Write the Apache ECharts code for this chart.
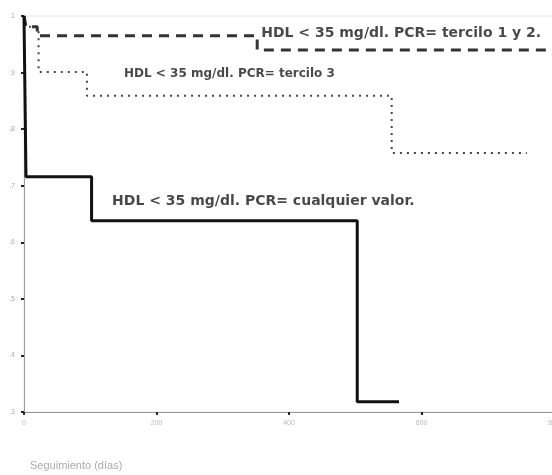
<!DOCTYPE html>
<html><head><meta charset="utf-8">
<script src="https://cdn.jsdelivr.net/npm/echarts@6/dist/echarts.min.js"></script>
<style>html,body{margin:0;padding:0;background:#fff}#c{width:552px;height:475px}</style>
</head><body><div id="c"></div>
<script>
// Kaplan-Meier step data (days, survival)
var solidDays   = [0, 3, 102, 503, 566];
var solidSurv   = [1.0, 0.716, 0.638, 0.318, 0.318];
var dashedDays  = [0, 3, 20, 352, 800];
var dashedSurv  = [1.0, 0.981, 0.965, 0.94, 0.94];
var dottedDays  = [0, 3, 22, 95, 555, 759];
var dottedSurv  = [1.0, 0.981, 0.901, 0.859, 0.758, 0.758];
var xTicks = [0, 200, 400, 600, 800];
var yTicks = [0.3, 0.4, 0.5, 0.6, 0.7, 0.8, 0.9, 1.0];
var labelText = ['HDL < 35 mg/dl. PCR= tercilo 1 y 2.', 'HDL < 35 mg/dl. PCR= tercilo 3', 'HDL < 35 mg/dl. PCR= cualquier valor.'];
var labelDays = [358, 151, 133];
var labelSurv = [0.970, 0.897, 0.672];
var xTitle = 'Seguimiento (días)';

var labelFont = [14, 12, 14];

function pairs(a, b){ return a.map(function(v,i){ return [v, b[i]]; }); }

var chart = echarts.init(document.getElementById('c'));
chart.setOption({
  animation: false,
  backgroundColor: '#fff',
  grid: {left: 24, width: 530, top: 16, height: 396, outerBoundsMode: 'none', containLabel: false,
         show: true, borderColor: '#e4e4e4', borderWidth: 1},
  xAxis: {
    type: 'value', min: 0, max: 800, interval: 200,
    axisLine: {lineStyle: {color: '#999', width: 1}},
    axisTick: {show: true, length: 3, lineStyle: {color: '#222', width: 2}},
    axisLabel: {color: '#bbb', fontSize: 7, margin: 8, fontFamily: 'Liberation Sans'},
    splitLine: {show: false},
    name: xTitle, nameLocation: 'start', nameGap: 0,
    nameTextStyle: {color: '#aaa', fontSize: 11, fontFamily: 'Liberation Sans', align: 'left', verticalAlign: 'top', padding: [48, 0, 0, 6]}
  },
  yAxis: {
    type: 'value', min: 0.3, max: 1.0, interval: 0.1,
    axisLine: {show: true, lineStyle: {color: '#999', width: 1}},
    axisTick: {show: true, length: 3, lineStyle: {color: '#222', width: 2}},
    axisLabel: {color: '#aaa', fontSize: 7, margin: 9, fontFamily: 'Liberation Sans',
      formatter: function(v){ var r = Math.round(v*10)/10; return r === 1 ? '1' : String(r).replace('0.', '.'); }},
    splitLine: {show: false}
  },
  series: [
    {type: 'line', step: 'end', data: pairs(dottedDays, dottedSurv), symbol: 'none',
     lineStyle: {color: '#444', width: 2, type: [2, 5]}},
    {type: 'line', step: 'end', data: pairs(dashedDays, dashedSurv), symbol: 'none',
     lineStyle: {color: '#333', width: 3, type: [10, 7]}},
    {type: 'line', step: 'end', data: pairs(solidDays, solidSurv), symbol: 'none',
     lineStyle: {color: '#111', width: 3}},
    {type: 'scatter', symbolSize: 0, silent: true,
     data: labelDays.map(function(d,i){ return {value: [d, labelSurv[i]], name: labelText[i], label: {fontSize: labelFont[i]}}; }),
     label: {show: true, position: 'right', distance: 0, formatter: '{b}', color: '#1a1a1a',
             fontWeight: 'bold', fontFamily: 'DejaVu Sans'}}
  ]
});
</script></body></html>
